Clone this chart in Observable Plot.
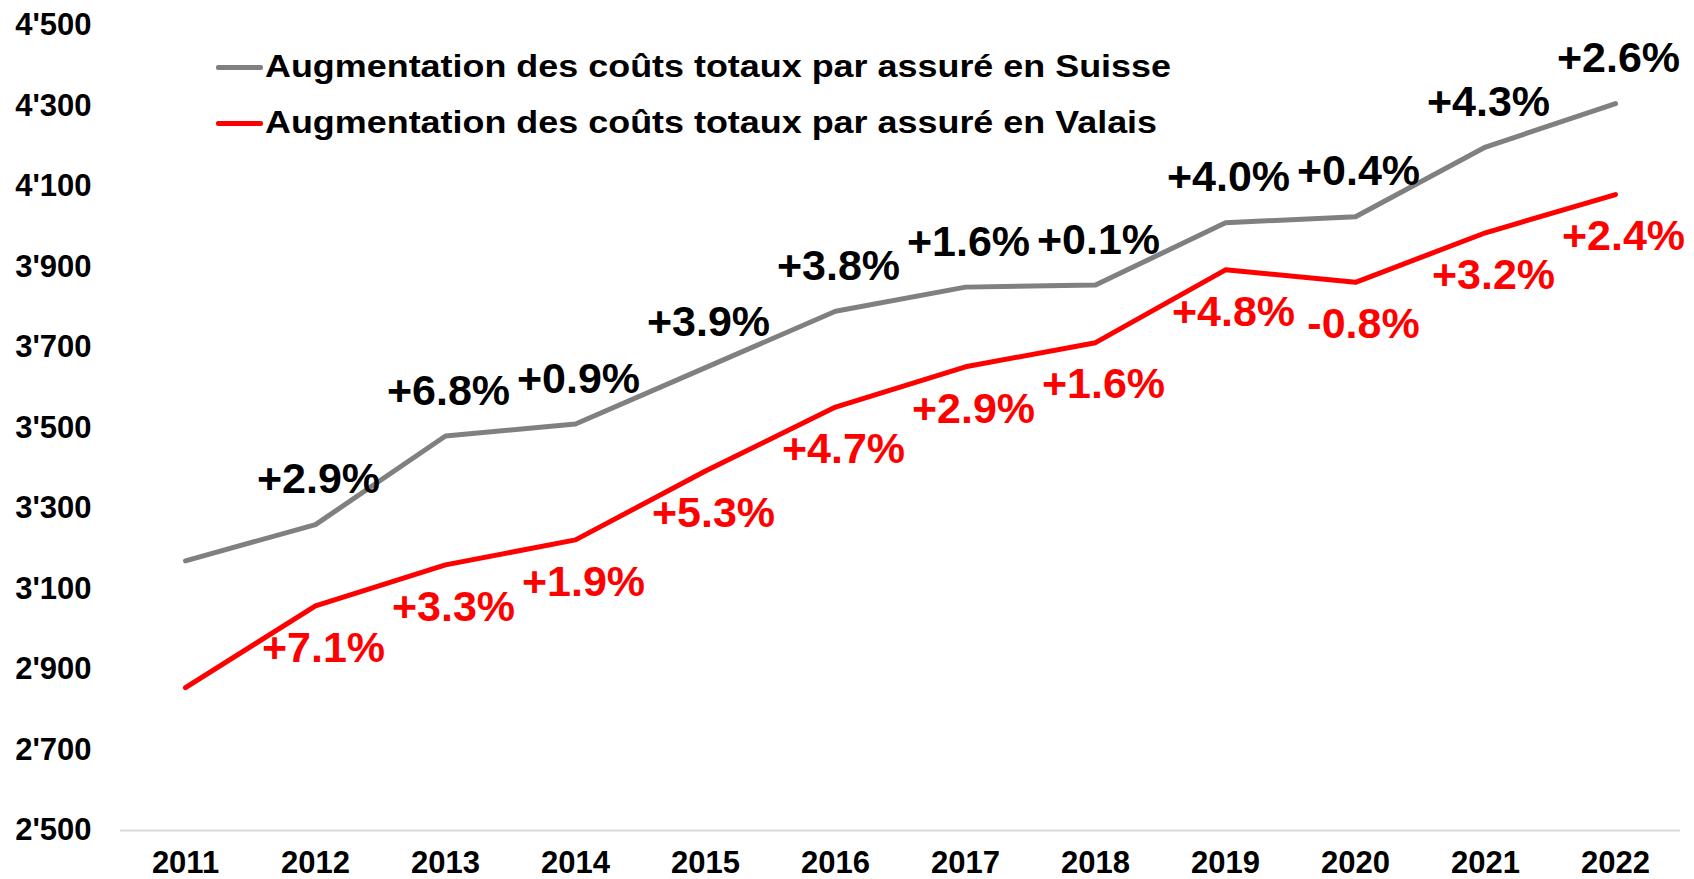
<!DOCTYPE html>
<html>
<head>
<meta charset="utf-8">
<script src="https://cdn.jsdelivr.net/npm/d3@7"></script>
<script src="https://cdn.jsdelivr.net/npm/@observablehq/plot@0.6"></script>
<style>
  html, body { margin: 0; padding: 0; background: #fff; overflow: hidden; }
  #wrap { position: relative; width: 1694px; height: 879px; }
  .legend-row { position: absolute; left: 216px; display: flex; align-items: center;
    font-family: "Liberation Sans", Arial, sans-serif; font-weight: bold; font-size: 31px;
    line-height: 36px; color: #000; white-space: nowrap; }
  .swatch { display: inline-block; width: 47px; height: 5px; border-radius: 2px; margin-right: 2px; flex: none; }
  .legend-text { display: inline-block; transform-origin: 0 50%; }
</style>
</head>
<body>
<div id="wrap"></div>
<script>
// ---- Data ----
const years = ["2011","2012","2013","2014","2015","2016","2017","2018","2019","2020","2021","2022"];
const suisse = [3170, 3260, 3480, 3510, 3650, 3790, 3850, 3855, 4010, 4025, 4198, 4306];
const valais = [2855, 3058, 3160, 3222, 3393, 3552, 3652, 3712, 3893, 3862, 3985, 4080];
const suisseLabels = ["", "+2.9%", "+6.8%", "+0.9%", "+3.9%", "+3.8%", "+1.6%", "+0.1%", "+4.0%", "+0.4%", "+4.3%", "+2.6%"];
const valaisLabels = ["", "+7.1%", "+3.3%", "+1.9%", "+5.3%", "+4.7%", "+2.9%", "+1.6%", "+4.8%", "-0.8%", "+3.2%", "+2.4%"];
const yTicks = [2500, 2700, 2900, 3100, 3300, 3500, 3700, 3900, 4100, 4300, 4500];
const seriesNames = [
  "Augmentation des coûts totaux par assuré en Suisse",
  "Augmentation des coûts totaux par assuré en Valais"
];
const seriesColors = ["#808080", "#ff0000"];

// ---- Build table ----
const rows = years.map((year, i) => ({
  year, suisse: suisse[i], valais: valais[i],
  suisseLabel: suisseLabels[i], valaisLabel: valaisLabels[i]
}));

const locale = d3.formatLocale({decimal: ".", thousands: "'", grouping: [3], currency: ["", ""]});
const fmt = locale.format(",");

const font = '"Liberation Sans", Arial, sans-serif';

const chart = Plot.plot({
  width: 1694,
  height: 879,
  marginLeft: 120,
  marginRight: 14,
  marginTop: 25,
  marginBottom: 49,
  style: {fontFamily: font, fontSize: "31px", fontWeight: "bold", color: "#000", background: "#fff"},
  x: {type: "point", domain: years, padding: 0.5, tickSize: 0, tickPadding: 20, label: null},
  y: {domain: [2500, 4500], ticks: yTicks, tickFormat: fmt, tickSize: 0, tickPadding: 29, label: null},
  marks: [
    Plot.ruleY([2500], {stroke: "#d9d9d9", strokeWidth: 2}),
    Plot.lineY(rows, {x: "year", y: "suisse", stroke: seriesColors[0], strokeWidth: 5, strokeLinejoin: "round", strokeLinecap: "round"}),
    Plot.lineY(rows, {x: "year", y: "valais", stroke: seriesColors[1], strokeWidth: 5, strokeLinejoin: "round", strokeLinecap: "round"}),
    Plot.text(rows.filter(d => d.suisseLabel), {x: "year", y: "suisse", text: "suisseLabel", dx: 3, dy: -45,
      fontSize: 43, fontWeight: "bold", fill: "#000", fontFamily: font}),
    Plot.text(rows.filter(d => d.valaisLabel), {x: "year", y: "valais", text: "valaisLabel", dx: 8, dy: 42,
      fontSize: 43, fontWeight: "bold", fill: seriesColors[1], fontFamily: font})
  ]
});

const wrap = document.getElementById("wrap");
wrap.appendChild(chart);

// ---- Legend (HTML overlay inside the plot area) ----
const legendTextWidth = 906; // width of the first legend label in the reference
let scaleK = null;
seriesNames.forEach((name, i) => {
  const row = document.createElement("div");
  row.className = "legend-row";
  row.style.top = (i === 0 ? 49 : 105) + "px";
  const sw = document.createElement("span");
  sw.className = "swatch";
  sw.style.background = seriesColors[i];
  const label = document.createElement("span");
  label.className = "legend-text";
  label.textContent = name;
  row.appendChild(sw);
  row.appendChild(label);
  wrap.appendChild(row);
  if (scaleK === null) scaleK = legendTextWidth / label.getBoundingClientRect().width;
  label.style.transform = `scaleX(${scaleK})`;
});
</script>
</body>
</html>
